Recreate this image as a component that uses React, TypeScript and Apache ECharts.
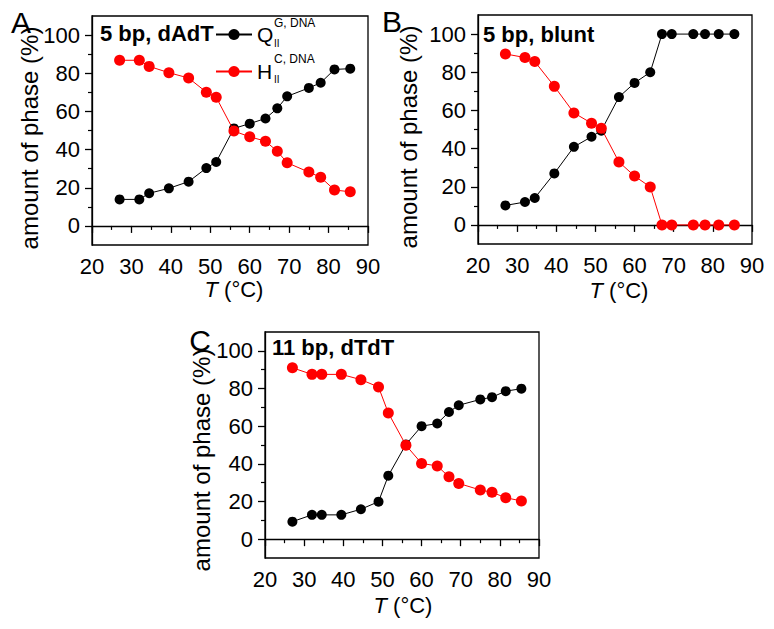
import React, { useEffect, useRef } from 'react';
import * as echarts from 'echarts';

// ---- data ----
const temperatures = [27, 32, 34.5, 39.5, 44.5, 49, 51.5, 56, 60, 64, 67, 69.5, 75, 78, 81.5, 85.5];

const qA = [13.9, 13.9, 17.1, 19.7, 23.2, 30.3, 33.5, 51.1, 53.6, 56.3, 61.6, 67.9, 72.3, 75.0, 82.0, 82.4];
const hA = [86.8, 86.8, 83.6, 80.3, 77.5, 70.1, 67.4, 49.7, 46.7, 44.4, 39.1, 33.1, 28.2, 25.5, 18.8, 17.9];

const qB = [10.2, 12.0, 14.1, 27.0, 40.9, 46.2, 49.4, 67.0, 74.4, 80.0, 100, 100, 100, 100, 100, 100];
const hB = [89.6, 87.7, 85.6, 72.6, 58.7, 53.3, 50.6, 33.0, 25.6, 19.9, 0, 0, 0, 0, 0, 0];

const qC = [9.3, 12.9, 12.9, 12.9, 15.9, 19.9, 33.7, 50.3, 60.0, 61.4, 67.5, 71.1, 74.2, 75.4, 78.6, 79.9];
const hC = [91.0, 87.5, 87.5, 87.5, 84.7, 80.8, 67.0, 49.9, 40.2, 38.9, 33.1, 29.6, 26.1, 24.9, 22.0, 20.3];

const yMajorTicks = [0, 20, 40, 60, 80, 100];
const yMinorTicks = [10, 30, 50, 70, 90];
const panelTitles = ['5 bp, dAdT', '5 bp, blunt', '11 bp, dTdT'];
const panelLetters = ['A', 'B', 'C'];
const yTitle = 'amount of phase (%)';

// ---- layout ----
const FONT = '"Liberation Sans", Arial, Helvetica, sans-serif';
const grids = [
  { left: 92, top: 16, width: 276, height: 229 },
  { left: 478, top: 15, width: 274, height: 229 },
  { left: 265, top: 332, width: 274, height: 226 },
];
const letterPos = [
  [21, 22],
  [392, 21],
  [200, 340],
];
const titlePos = [
  [100, 33],
  [483, 34],
  [272, 347],
];
const yTitlePos = [
  [29, 138],
  [408, 137],
  [201, 460],
];
const xTitlePos = [
  [234, 289],
  [619, 290],
  [403, 605],
];

const seriesSets = [
  { q: qA, h: hA },
  { q: qB, h: hB },
  { q: qC, h: hC },
];

export default function App() {
  const ref = useRef<HTMLDivElement>(null);

  useEffect(() => {
    if (!ref.current) return;
    const chart = echarts.init(ref.current, null, { renderer: 'svg' });

    const xAxis: any[] = [];
    const yAxis: any[] = [];
    const series: any[] = [];
    const graphic: any[] = [];

    grids.forEach((g, i) => {
      xAxis.push({
        type: 'value',
        gridIndex: i,
        min: 20,
        max: 90,
        interval: 10,
        axisLine: { show: true, lineStyle: { color: '#000', width: 1.3 } },
        axisTick: { show: true, inside: false, length: 7, lineStyle: { color: '#000', width: 1.3 } },
        minorTick: { show: true, splitNumber: 2, length: 4, lineStyle: { color: '#000', width: 1.2 } },
        axisLabel: { color: '#000', fontSize: 22, fontFamily: FONT, margin: 10 },
        splitLine: { show: false },
        minorSplitLine: { show: false },
      });
      yAxis.push({
        type: 'value',
        gridIndex: i,
        min: -10,
        max: 110,
        interval: 10,
        axisLine: { show: true, lineStyle: { color: '#000', width: 1.3 } },
        axisTick: {
          show: true,
          inside: false,
          length: 7,
          customValues: yMajorTicks,
          lineStyle: { color: '#000', width: 1.3 },
        },
        axisLabel: {
          color: '#000',
          fontSize: 22,
          fontFamily: FONT,
          margin: 12,
          customValues: yMajorTicks,
        },
        splitLine: { show: false },
      });
      yAxis.push({
        type: 'value',
        gridIndex: i,
        position: 'left',
        min: -10,
        max: 110,
        interval: 10,
        axisLine: { show: false },
        axisTick: {
          show: true,
          inside: false,
          length: 4,
          customValues: yMinorTicks,
          lineStyle: { color: '#000', width: 1.2 },
        },
        axisLabel: { show: false },
        splitLine: { show: false },
      });

      const set = seriesSets[i];
      series.push({
        type: 'line',
        name: i === 0 ? 'Q' : 'Q' + i,
        xAxisIndex: i,
        yAxisIndex: i * 2,
        data: temperatures.map((t, k) => [t, set.q[k]]),
        symbol: 'circle',
        symbolSize: 10,
        itemStyle: { color: '#000' },
        lineStyle: { color: '#000', width: 1 },
        z: 2,
      });
      series.push({
        type: 'line',
        name: i === 0 ? 'H' : 'H' + i,
        xAxisIndex: i,
        yAxisIndex: i * 2,
        data: temperatures.map((t, k) => [t, set.h[k]]),
        symbol: 'circle',
        symbolSize: 11,
        itemStyle: { color: '#ff0000' },
        lineStyle: { color: '#ff0000', width: 1 },
        z: 3,
      });

      graphic.push({
        type: 'text',
        x: letterPos[i][0],
        y: letterPos[i][1],
        style: {
          text: panelLetters[i],
          font: `30px ${FONT}`,
          fill: '#000',
          textAlign: 'center',
          textVerticalAlign: 'middle',
        },
      });
      graphic.push({
        type: 'text',
        x: titlePos[i][0],
        y: titlePos[i][1],
        z: 10,
        style: {
          text: panelTitles[i],
          font: `bold 22px ${FONT}`,
          fill: '#000',
          textAlign: 'left',
          textVerticalAlign: 'middle',
        },
      });
      graphic.push({
        type: 'text',
        x: yTitlePos[i][0],
        y: yTitlePos[i][1],
        rotation: Math.PI / 2,
        style: {
          text: yTitle,
          font: `24px ${FONT}`,
          fill: '#000',
          textAlign: 'center',
          textVerticalAlign: 'middle',
        },
      });
      graphic.push({
        type: 'text',
        x: xTitlePos[i][0],
        y: xTitlePos[i][1],
        style: {
          text: '{i|T} (°C)',
          font: `22px ${FONT}`,
          fill: '#000',
          textAlign: 'center',
          textVerticalAlign: 'middle',
          rich: {
            i: { fontStyle: 'italic', fontSize: 22, fontFamily: FONT, fill: '#000' },
          },
        },
      });
    });

    // legend super/subscripts (panel A)
    const scripts = [
      { text: 'G, DNA', x: 274, y: 23, size: 12 },
      { text: 'II', x: 274, y: 43, size: 10 },
      { text: 'C, DNA', x: 274, y: 59, size: 12 },
      { text: 'II', x: 274, y: 79, size: 10 },
    ];
    scripts.forEach((s) => {
      graphic.push({
        type: 'text',
        x: s.x,
        y: s.y,
        z: 10,
        style: {
          text: s.text,
          font: `${s.size}px ${FONT}`,
          fill: '#000',
          textAlign: 'left',
          textVerticalAlign: 'middle',
        },
      });
    });

    chart.setOption({
      animation: false,
      backgroundColor: '#fff',
      grid: grids.map((g) => ({
        ...g,
        show: true,
        borderColor: '#000',
        borderWidth: 1.3,
        backgroundColor: 'transparent',
        containLabel: false,
      })),
      xAxis,
      yAxis,
      series,
      legend: {
        data: ['Q', 'H'],
        orient: 'vertical',
        left: 215,
        top: 24,
        padding: 0,
        itemWidth: 36,
        itemHeight: 14,
        itemGap: 16,
        selectedMode: false,
        textStyle: { color: '#000', fontSize: 21, lineHeight: 14, fontFamily: FONT, padding: 0 },
      },
      graphic,
    });

    return () => chart.dispose();
  }, []);

  return (
    <div
      ref={ref}
      style={{ position: 'absolute', left: 0, top: 0, width: 774, height: 629, background: '#fff' }}
    />
  );
}
